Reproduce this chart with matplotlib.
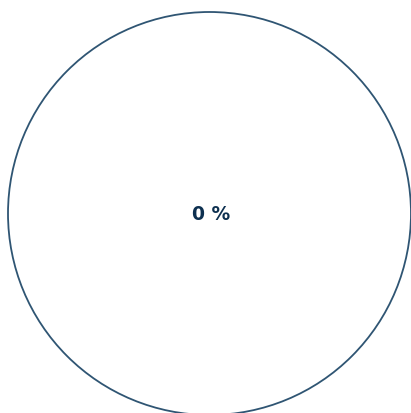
import matplotlib
matplotlib.use("Agg")
import matplotlib.pyplot as plt
from matplotlib.patches import Circle, Wedge

# Data
value_percent = 0
label_text = f"{value_percent} %"

W, H = 411, 414
fig = plt.figure(figsize=(W / 100, H / 100), dpi=100)
ax = fig.add_axes([0, 0, 1, 1])
ax.set_xlim(0, W)
ax.set_ylim(H, 0)
ax.set_aspect("equal")
ax.axis("off")

cx, cy, r = 209.5, 214.5, 201.5
ax.add_patch(Circle((cx, cy), r, fill=False, edgecolor="#2f5573", linewidth=1.3))
if value_percent > 0:
    ax.add_patch(Wedge((cx, cy), r, -90, -90 + 360 * value_percent / 100,
                       facecolor="#2f5573", edgecolor="none"))
ax.text(211, 214.5, label_text, ha="center", va="center", fontsize=13.5,
        fontweight="bold", family="DejaVu Sans", color="#0d3050")

fig.savefig("out.png", dpi=100)
